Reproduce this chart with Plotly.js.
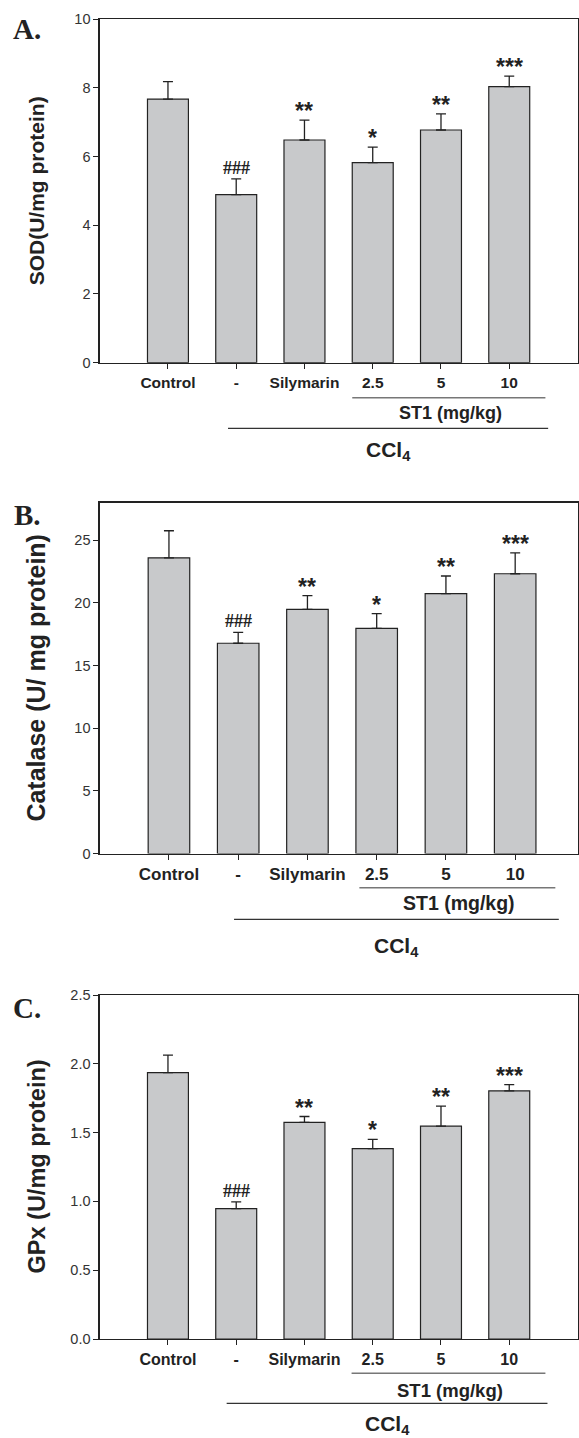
<!DOCTYPE html>
<html>
<head>
<meta charset="utf-8">
<script src="https://cdn.plot.ly/plotly-3.0.1.min.js"></script>
<style>html,body{margin:0;padding:0;background:#fff;}#chart{width:579px;height:1438px;}</style>
</head>
<body>
<div id="chart"></div>
<script>
// ---- data ----
const categories = ["Control", "-", "Silymarin", "2.5", "5", "10"];
const sodMean = [7.67, 4.89, 6.48, 5.82, 6.77, 8.03];
const sodErr  = [0.51, 0.46, 0.58, 0.45, 0.47, 0.31];
const catMean = [23.6, 16.78, 19.49, 17.97, 20.74, 22.33];
const catErr  = [2.16, 0.87, 1.09, 1.17, 1.41, 1.67];
const gpxMean = [1.936, 0.947, 1.574, 1.383, 1.547, 1.803];
const gpxErr  = [0.127, 0.049, 0.043, 0.068, 0.145, 0.046];
const sigMarks = ["", "###", "**", "*", "**", "***"];
const panelLetters = ["A.", "B.", "C."];
const yTitles = ["SOD(U/mg protein)", "Catalase (U/ mg protein)", "GPx (U/mg protein)"];
const groupLabel = "ST1 (mg/kg)";
const outerLabel = "CCl<sub>4</sub>";

// ---- layout config ----
const W = 579, H = 1438;
const SANS = 'Arial, "Liberation Sans", sans-serif';
const SERIF = '"Times New Roman", "Liberation Serif", serif';
const INK = '#222';
const xIdx = categories.map((c, i) => i);

const panels = [
  {mean: sodMean, err: sodErr, top: 19, bottom: 362.7, yr: [0, 10], dtick: 2, fmt: '', xr: [-1, 6],
   tickFont: 15.5, titleFont: 21, st1: [2.70, 5.53], ccl: [0.88, 5.57], st1Line: 397.7, st1Text: 413.3, cclLine: 428.3, cclText: 450.7, tickLblY: 384, letterY: 29, errW: 5},
  {mean: catMean, err: catErr, top: 502.7, bottom: 853.5, yr: [0, 28], dtick: 5, fmt: '', xr: [-1, 5.9],
   tickFont: 17, titleFont: 25, st1: [2.75, 5.58], ccl: [0.94, 5.63], st1Line: 887.7, st1Text: 903, cclLine: 919.3, cclText: 946.7, tickLblY: 873, letterY: 515, errW: 5},
  {mean: gpxMean, err: gpxErr, top: 995, bottom: 1339, yr: [0, 2.5], dtick: 0.5, fmt: '.1f', xr: [-1, 6],
   tickFont: 16, titleFont: 23.5, st1: [2.69, 5.53], ccl: [0.86, 5.56], st1Line: 1373.3, st1Text: 1390, cclLine: 1403.3, cclText: 1425, tickLblY: 1359.3, letterY: 1008, errW: 5}
];

const xDomain = [99.7 / W, 577.5 / W];
const data = [];
const layout = {
  width: W, height: H,
  margin: {l: 0, r: 0, t: 0, b: 0, pad: 0},
  paper_bgcolor: '#fff', plot_bgcolor: '#fff',
  showlegend: false,
  bargap: 0.4,
  annotations: [], shapes: []
};

panels.forEach((p, k) => {
  const sfx = k === 0 ? '' : String(k + 1);
  const xa = 'x' + sfx, ya = 'y' + sfx;
  data.push({
    type: 'bar', x: xIdx, y: p.mean, xaxis: xa, yaxis: ya, width: 0.6,
    marker: {color: '#c8c9cb', line: {color: INK, width: 1.2}},
    error_y: {type: 'data', symmetric: false, array: p.err, arrayminus: p.mean.map(() => 0),
              color: INK, thickness: 1.3, width: p.errW},
    hoverinfo: 'skip'
  });
  const plotH = p.bottom - p.top;
  layout['xaxis' + sfx] = {
    domain: xDomain, anchor: ya, range: p.xr, fixedrange: true,
    tickmode: 'array', tickvals: xIdx, ticktext: categories,
    ticks: 'outside', ticklen: 5, tickwidth: 1, tickcolor: INK,
    showline: true, linecolor: INK, linewidth: 1.3, mirror: true,
    showgrid: false, zeroline: false,
    ticklabelstandoff: Math.max(0, (p.tickLblY - p.bottom) - 5 - p.tickFont * 0.75),
    tickfont: {family: SANS, size: p.tickFont, color: INK, weight: 'bold'}
  };
  layout['yaxis' + sfx] = {
    domain: [1 - p.bottom / H, 1 - p.top / H], anchor: xa, range: p.yr, fixedrange: true,
    dtick: p.dtick, tick0: 0, tickformat: p.fmt,
    ticks: 'outside', ticklen: 5, tickwidth: 1, tickcolor: INK,
    showline: true, linecolor: INK, linewidth: 1.3, mirror: true,
    showgrid: false, zeroline: false,
    tickfont: {family: SANS, size: 14.5, color: '#333'}
  };
  // significance marks
  sigMarks.forEach((s, i) => {
    if (!s) return;
    const isHash = s.indexOf('#') >= 0;
    layout.annotations.push({
      xref: xa, yref: ya, x: xIdx[i], y: p.mean[i] + p.err[i],
      text: s, showarrow: false, xanchor: 'center', yanchor: 'bottom',
      yshift: isHash ? -1 : -6,
      font: isHash ? {family: SERIF, size: 18, color: INK, weight: 'bold'} : {family: SANS, size: 23, color: INK, weight: 'bold'}
    });
  });
  const yd = px => (p.bottom - px) / plotH;
  // group lines
  layout.shapes.push({type: 'line', xref: xa, yref: ya + ' domain', x0: p.st1[0], x1: p.st1[1],
    y0: yd(p.st1Line), y1: yd(p.st1Line), line: {color: '#777', width: 1.5}});
  layout.shapes.push({type: 'line', xref: xa, yref: ya + ' domain', x0: p.ccl[0], x1: p.ccl[1],
    y0: yd(p.cclLine), y1: yd(p.cclLine), line: {color: '#333', width: 1.3}});
  layout.annotations.push({xref: xa, yref: ya + ' domain', x: (p.st1[0] + p.st1[1]) / 2 + 0.02, y: yd(p.st1Text),
    text: groupLabel, showarrow: false, xanchor: 'center', yanchor: 'middle',
    font: {family: SANS, size: p.tickFont + 2.5, color: INK, weight: 'bold'}});
  layout.annotations.push({xref: xa, yref: ya + ' domain', x: (p.ccl[0] + p.ccl[1]) / 2, y: yd(p.cclText),
    text: outerLabel, showarrow: false, xanchor: 'center', yanchor: 'middle',
    font: {family: SANS, size: 21, color: INK, weight: 'bold'}});
  // y title
  layout.annotations.push({xref: 'paper', yref: ya + ' domain', x: 36.5 / W, y: 0.5,
    text: yTitles[k], showarrow: false, textangle: -90, xanchor: 'center', yanchor: 'middle',
    font: {family: SANS, size: p.titleFont, color: INK, weight: 'bold'}});
  // panel letter
  layout.annotations.push({xref: 'paper', yref: 'paper', x: 27 / W, y: 1 - p.letterY / H,
    text: panelLetters[k], showarrow: false, xanchor: 'center', yanchor: 'middle',
    font: {family: SERIF, size: 29, color: INK, weight: 'bold'}});
});

Plotly.newPlot('chart', data, layout, {staticPlot: true, displayModeBar: false});
</script>
</body>
</html>
